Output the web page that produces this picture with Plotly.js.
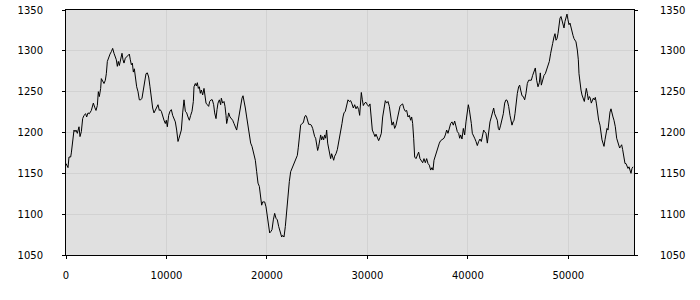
<!DOCTYPE html>
<html>
<head>
<meta charset="utf-8">
<script src="https://cdn.plot.ly/plotly-3.0.1.min.js"></script>
<style>html,body{margin:0;padding:0;background:#fff;}#chart{width:700px;height:300px;}</style>
</head>
<body>
<div id="chart"></div>
<script>
// Series
const xs = [
0,199,299,465,531,631,796,896,995,1128,1294,1394,1526,1659,1792,1958,2057,2190,2323,2522,2721,2854,2986,3119,3219,3318,3451,3517,3650,3783,3915,4015,4114,4247,4380,4513,4645,4778,4878,5010,5110,5209,5309,5442,5574,5674,5773,5906,6039,6172,6304,6404,6503,6603,6702,6802,6902,7034,7167,7300,7432,7565,7698,7831,7963,8096,8229,8361,8494,8627,8760,8892,9025,9158,9291,
9357,9490,9623,9755,9888,9988,10087,10220,10352,10485,10618,10750,10883,11016,11149,11248,11348,11481,11613,11746,11879,12011,12144,12277,12410,12542,12675,12741,12874,12974,13073,13173,13272,13372,13471,13604,13737,13836,13936,14069,14201,14301,14434,14566,14699,14799,14931,15031,15130,15263,15396,15462,15595,15728,15827,15927,15993,16093,16192,16325,16458,16590,16723,16856,16988,17121,17254,17387,17519,17619,17718,17851,17984,18117,18249,18382,18515,18648,
18847,18979,19112,19245,19378,19477,19577,19776,19909,20041,20174,20273,20406,20506,20638,20771,20904,21037,21169,21302,21468,21567,21700,21833,21966,22098,22231,22364,22497,22629,22762,22895,23028,23127,23227,
23358,23491,23624,23756,23856,23956,24055,24155,24287,24420,24553,24652,24752,24851,24951,25050,25150,25249,25349,25449,25548,25648,25747,25847,25946,26046,26145,26245,26344,26444,26544,26643,26743,26875,27008,27108,27207,27340,27473,27572,27672,27804,27904,28037,
28070,28203,28336,28468,28601,28734,28867,28999,29132,29232,29331,29397,29497,29596,29729,29862,29995,30127,30260,30393,30492,30625,30758,30857,30990,31123,31255,31388,31521,31654,31786,31919,32052,32185,32317,32450,32583,32715,32848,32981,33114,33246,33379,33512,33644,33777,33910,34043,34175,34308,34408,34507,34607,34706,34839,34972,35104,35237,35370,35503,35635,35768,35901,36033,36166,36299,36432,36531,36631,36763,36896,37029,37162,37294,37427,
37626,37759,37892,38024,38157,38290,38422,38555,38688,38821,38953,39086,39186,39285,39418,39551,39683,39816,39949,40048,40148,40247,40347,40446,40546,40679,40811,40944,41077,41210,41342,41475,41575,41674,41807,41940,42072,42205,42338,42470,42570,42670,42802,42935,43035,43134,43267,43399,43532,43665,43798,43930,44063,44196,44295,44395,44494,44594,44694,44793,44926,45058,45158,45258,45390,45523,45656,45788,45921,46054,46187,46319,46452,46585,46717,
46850,46983,47116,47215,47315,47448,47580,47713,47846,47979,48111,48244,48344,48443,48576,48675,48775,48874,48974,49074,49173,49273,49372,49472,49571,49671,49770,49870,49969,50069,50168,50268,50368,50467,50567,50666,50766,50898,50998,51064,51164,51263,51363,51496,51595,51695,51794,51894,51993,52093,52192,52292,52392,52491,52591,52690,52790,52889,53022,53155,53254,53354,53453,53553,53652,53752,53852,53951,54051,54150,54250,54349,54449,54548,54681,54814,54913,55013,55112,55212,55311,55411,55544,55643,55743,55842,55942,56041,56141,56240,56340,56439,56506
];
const values = [
1162,1157,1170,1170,1175,1187,1203,1201,1203,1199,1207,1195,1201,1217,1221,1223,1219,1224,1223,1227,1236,1231,1227,1233,1250,1244,1254,1266,1262,1260,1264,1272,1287,1293,1296,1299,1303,1297,1293,1289,1281,1287,1282,1289,1297,1289,1285,1291,1293,1295,1296,1289,1283,1285,1274,1278,1268,1256,1250,1240,1240,1242,1252,1264,1272,1273,1268,1256,1240,1230,1224,1227,1231,1234,1227,
1228,1226,1219,1215,1211,1215,1207,1221,1226,1228,1221,1217,1213,1203,1189,1193,1197,1203,1224,1240,1226,1224,1219,1215,1221,1226,1238,1256,1260,1257,1261,1254,1256,1248,1252,1246,1254,1244,1236,1234,1232,1238,1240,1240,1234,1224,1217,1228,1236,1240,1234,1242,1236,1238,1232,1221,1211,1217,1224,1219,1217,1215,1211,1207,1203,1213,1224,1234,1242,1245,1240,1230,1219,1207,1195,1187,1183,1175,
1166,1152,1138,1134,1115,1111,1115,1115,1109,1097,1085,1077,1079,1081,1093,1101,1095,1093,1085,1079,1072,1074,1072,1085,1105,1119,1140,1152,1156,1158,1164,1168,1172,1182,1191,
1209,1211,1212,1219,1221,1219,1215,1210,1210,1209,1205,1199,1195,1193,1185,1178,1183,1189,1197,1191,1195,1191,1197,1193,1203,1187,1179,1176,1168,1174,1170,1166,1171,1174,1179,1185,1191,1199,1211,1219,1224,1226,1232,1240,
1240,1238,1239,1235,1230,1234,1229,1232,1228,1221,1244,1249,1240,1233,1236,1237,1234,1232,1235,1219,1203,1199,1195,1198,1193,1190,1194,1199,1219,1232,1239,1236,1238,1232,1219,1209,1213,1205,1209,1217,1228,1232,1234,1235,1229,1226,1227,1219,1221,1215,1219,1211,1193,1170,1168,1172,1176,1168,1166,1163,1168,1163,1168,1162,1160,1154,1157,1154,1166,1172,1176,1183,1187,1190,1191,
1193,1197,1203,1199,1207,1211,1213,1209,1214,1207,1201,1199,1193,1197,1192,1205,1197,1213,1223,1234,1228,1221,1211,1199,1197,1193,1189,1184,1189,1192,1189,1197,1203,1201,1199,1187,1203,1213,1219,1226,1230,1223,1219,1215,1205,1203,1209,1215,1223,1236,1240,1239,1232,1221,1215,1209,1213,1215,1223,1236,1248,1256,1258,1252,1245,1244,1240,1248,1260,1264,1264,1264,1270,1274,1279,
1264,1256,1261,1273,1258,1266,1270,1272,1277,1280,1287,1297,1305,1309,1317,1321,1313,1315,1321,1332,1340,1342,1338,1332,1328,1336,1340,1345,1338,1332,1334,1328,1321,1319,1315,1313,1311,1301,1289,1272,1260,1252,1246,1242,1238,1246,1254,1248,1240,1244,1242,1236,1240,1242,1240,1243,1236,1224,1215,1209,1199,1191,1187,1183,1191,1197,1205,1203,1215,1225,1229,1221,1219,1215,1207,1193,1189,1183,1181,1183,1185,1179,1170,1162,1162,1158,1156,1158,1154,1150,1156,1158
];
const xTicks = [0, 10000, 20000, 30000, 40000, 50000];
const yTicks = [1050, 1100, 1150, 1200, 1250, 1300, 1350];

const font = {family: 'DejaVu Sans, sans-serif', size: 10, color: '#000'};
const traces = [
  {x: xs, y: values, type: 'scatter', mode: 'lines', line: {color: '#000', width: 1}, hoverinfo: 'skip'},
  {x: xs, y: values, type: 'scatter', mode: 'lines', yaxis: 'y2', line: {color: 'rgba(0,0,0,0)', width: 0}, hoverinfo: 'skip'}
];
const yCommon = {
  range: [1050, 1350], tickvals: yTicks, ticktext: yTicks.map(String),
  showline: true, linecolor: '#000', linewidth: 1,
  ticks: 'outside', ticklen: 3, tickcolor: '#000', tickfont: font,
  zeroline: false, fixedrange: true
};
const layout = {
  width: 700, height: 300,
  margin: {l: 66, r: 66, t: 10, b: 45, pad: 0},
  paper_bgcolor: '#fff', plot_bgcolor: '#e0e0e0',
  showlegend: false,
  font: font,
  xaxis: {
    range: [0, 56540], tickvals: xTicks, ticktext: xTicks.map(String),
    showline: true, mirror: true, linecolor: '#000', linewidth: 1,
    ticks: 'outside', ticklen: 3, tickcolor: '#000', tickfont: font,
    showgrid: true, gridcolor: '#d2d2d2', gridwidth: 1, zeroline: false,
    ticklabelstandoff: 8
  },
  yaxis: Object.assign({}, yCommon, {showgrid: true, gridcolor: '#d2d2d2', gridwidth: 1, side: 'left', ticklabelstandoff: 17}),
  yaxis2: Object.assign({}, yCommon, {overlaying: 'y', side: 'right', showgrid: false, ticklabelstandoff: 20})
};
Plotly.newPlot('chart', traces, layout, {staticPlot: true, displayModeBar: false});
</script>
</body>
</html>
